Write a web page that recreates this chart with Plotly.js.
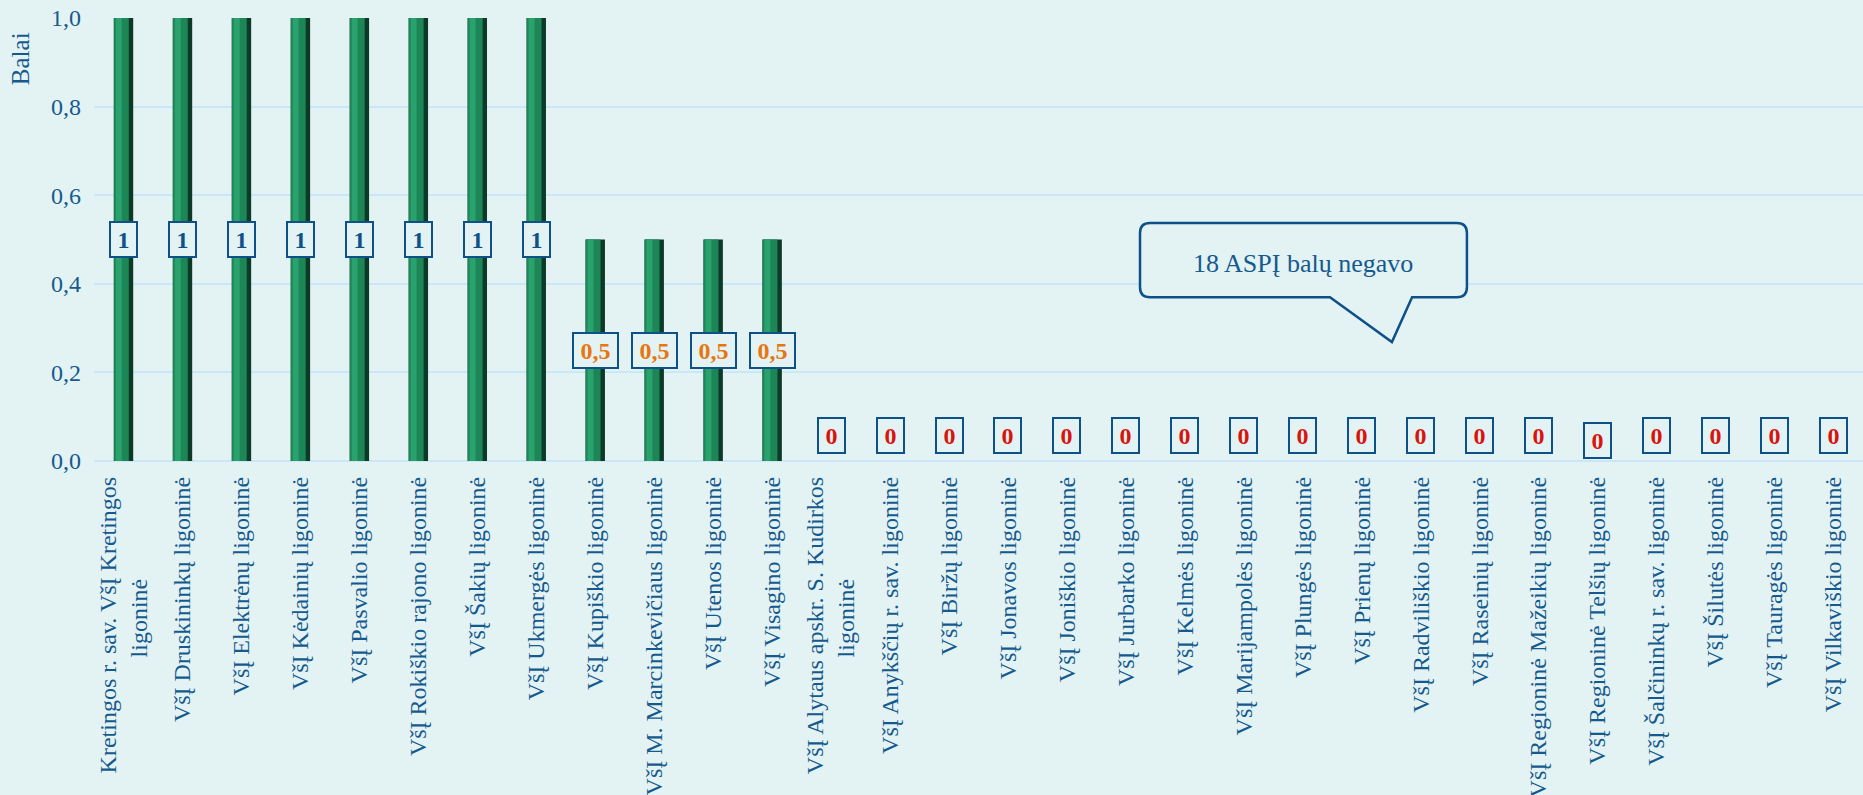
<!DOCTYPE html>
<html>
<head>
<meta charset="utf-8">
<script src="https://cdn.plot.ly/plotly-3.0.1.min.js"></script>
<style>
  html,body{margin:0;padding:0;background:#e3f2f3;}
  #chart{width:1863px;height:795px;}
</style>
</head>
<body>
<div id="chart"></div>
<script>
// second line of the two long labels is centred under the first with nbsp padding
const PAD = '\u00a0'.repeat(17);
const hospitals = [
  'Kretingos r. sav. VšĮ Kretingos<br>ligoninė' + PAD,
  'VšĮ Druskininkų ligoninė',
  'VšĮ Elektrėnų ligoninė',
  'VšĮ Kėdainių ligoninė',
  'VšĮ Pasvalio ligoninė',
  'VšĮ Rokiškio rajono ligoninė',
  'VšĮ Šakių ligoninė',
  'VšĮ Ukmergės ligoninė',
  'VšĮ Kupiškio ligoninė',
  'VšĮ M. Marcinkevičiaus ligoninė',
  'VšĮ Utenos ligoninė',
  'VšĮ Visagino ligoninė',
  'VšĮ Alytaus apskr. S. Kudirkos<br>ligoninė' + PAD,
  'VšĮ Anykščių r. sav. ligoninė',
  'VšĮ Biržų ligoninė',
  'VšĮ Jonavos ligoninė',
  'VšĮ Joniškio ligoninė',
  'VšĮ Jurbarko ligoninė',
  'VšĮ Kelmės ligoninė',
  'VšĮ Marijampolės ligoninė',
  'VšĮ Plungės ligoninė',
  'VšĮ Prienų ligoninė',
  'VšĮ Radviliškio ligoninė',
  'VšĮ Raseinių ligoninė',
  'VšĮ Regioninė Mažeikių ligoninė',
  'VšĮ Regioninė Telšių ligoninė',
  'VšĮ Šalčininkų r. sav. ligoninė',
  'VšĮ Šilutės ligoninė',
  'VšĮ Tauragės ligoninė',
  'VšĮ Vilkaviškio ligoninė'
];
const scores = [1,1,1,1,1,1,1,1, 0.5,0.5,0.5,0.5,
  0,0,0,0,0,0,0,0,0,0,0,0,0,0,0,0,0,0];
const yTicks = [0, 0.2, 0.4, 0.6, 0.8, 1.0];
const calloutText = '18 ASPĮ balų negavo';

const BG = '#e3f2f3';
const BLUE = '#0e5189';
const TXT = '#155a8e';
const SERIF = 'Liberation Serif, Times New Roman, serif';

function labelColor(v){
  if(v >= 1) return BLUE;
  if(v > 0) return '#e8760f';
  return '#d8140e';
}

// cylinder look: dark base + body + highlight stacked in overlay mode
const bars = [
  {w:0.33, off:-0.165, c:'#0b3b27'},
  {w:0.25, off:-0.16, c:'#1d8657'},
  {w:0.10, off:-0.13, c:'#2aa26d'}
].map(s => ({
  type:'bar', x:hospitals, y:scores,
  width:s.w, offset:s.off,
  marker:{color:s.c, line:{width:0}},
  hoverinfo:'skip', showlegend:false
}));

const annotations = scores.map((v,i) => {
  const txt = String(v).replace('.', ',');
  let y = v > 0 ? v/2 : 0.058;
  if(v === 0 && hospitals[i].indexOf('Telšių') >= 0) y = 0.047; // sits lower in original
  return {
    x:hospitals[i], y:y, xref:'x', yref:'y',
    text:'<b>'+txt+'</b>', showarrow:false,
    font:{family:SERIF, size:24, color:labelColor(v)},
    bgcolor:BG, bordercolor:BLUE, borderwidth:2, borderpad:2,
    width: txt.length > 1 ? 39 : 21, height:29,
    xanchor:'center', yanchor:'middle'
  };
});

annotations.push({
  x:0, xref:'paper', xshift:-74, xanchor:'center',
  y:0.905, yref:'paper', yanchor:'middle',
  text:'Balai', textangle:-90, showarrow:false,
  font:{family:SERIF, size:25, color:TXT}
});

// callout box (paper coords)
const cx0=0.5913, cx1=0.7761, cy0=0.369, cy1=0.536, rx=0.0057, ry=0.0225;
const ta=0.6987, tb=0.7451, tx=0.7337, ty=0.268;
const calloutPath =
  `M ${cx0+rx},${cy1} L ${cx1-rx},${cy1} Q ${cx1},${cy1} ${cx1},${cy1-ry} ` +
  `L ${cx1},${cy0+ry} Q ${cx1},${cy0} ${cx1-rx},${cy0} L ${tb},${cy0} L ${tx},${ty} L ${ta},${cy0} ` +
  `L ${cx0+rx},${cy0} Q ${cx0},${cy0} ${cx0},${cy0+ry} L ${cx0},${cy1-ry} Q ${cx0},${cy1} ${cx0+rx},${cy1} Z`;

annotations.push({
  x:(cx0+cx1)/2, y:0.444, xref:'paper', yref:'paper',
  text:calloutText, showarrow:false,
  font:{family:SERIF, size:26, color:TXT},
  xanchor:'center', yanchor:'middle'
});

const layout = {
  width:1863, height:795,
  margin:{l:94, r:0, t:17, b:334},
  paper_bgcolor:BG, plot_bgcolor:BG,
  barmode:'overlay',
  separators:', ',
  font:{family:SERIF, color:TXT, size:24},
  xaxis:{
    type:'category', tickangle:-90,
    tickfont:{family:SERIF, size:24, color:TXT},
    showgrid:false, showline:false, ticks:'', ticklabelstandoff:10,
    range:[-0.5, hospitals.length-0.5]
  },
  yaxis:{
    range:[0, 1.002], tickvals:yTicks, tickformat:'.1f',
    tickfont:{family:SERIF, size:24, color:TXT},
    gridcolor:'#c9e7f8', gridwidth:2,
    zeroline:true, zerolinecolor:'#c9e7f8', zerolinewidth:2,
    showline:false, ticks:'', ticklabelstandoff:12
  },
  shapes:[{
    type:'path', xref:'paper', yref:'paper', path:calloutPath,
    line:{color:BLUE, width:2.5}, fillcolor:BG, layer:'above'
  }],
  annotations:annotations
};

Plotly.newPlot('chart', bars, layout, {displayModeBar:false, staticPlot:true});
</script>
</body>
</html>
